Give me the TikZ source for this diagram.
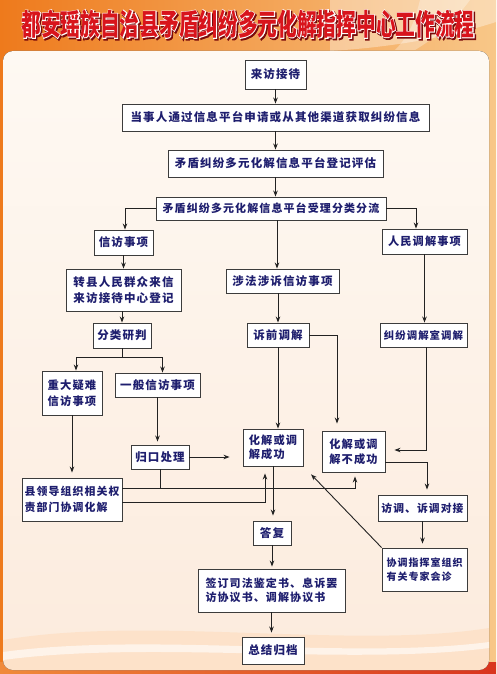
\documentclass[tikz,border=0pt]{standalone}
\usepackage{fontspec}
\usetikzlibrary{arrows.meta,calc}
\newfontfamily\cjk[LetterSpace=10]{Noto Sans CJK SC}
\newfontfamily\cjktitle{Noto Sans CJK SC}
\newfontfamily\cjktitleW{Noto Sans CJK SC}[BoldFeatures={FakeBold=5}]
\newfontfamily\cjktitleS{Noto Sans CJK SC}[BoldFeatures={FakeBold=7}]
\definecolor{txt}{HTML}{1E1E6E}
\definecolor{boxc}{HTML}{3C3C3C}
\definecolor{linec}{HTML}{222222}
\definecolor{orL}{HTML}{EE7A1C}
\definecolor{orR}{HTML}{F8C788}
\definecolor{panelT}{HTML}{FEF9F3}
\definecolor{panelB}{HTML}{FCEBDD}
\definecolor{titlered}{HTML}{D8141C}
\definecolor{titleshadow}{HTML}{7A0A0A}
\definecolor{botL}{HTML}{F08A3A}
\definecolor{botR}{HTML}{D9341E}
\newcommand{\fsz}[2]{\cjk\bfseries\fontsize{#1}{#2}\selectfont}
\newcommand{\titletext}{都安瑶族自治县矛盾纠纷多元化解指挥中心工作流程}
\begin{document}
\begin{tikzpicture}[x=1pt,y=-1pt,
  box/.style={draw=boxc, line width=0.9pt, fill=white, text=txt, inner sep=0pt, align=center, font=\fsz{11.5}{15.5}},
  arr/.style={draw=linec, line width=0.9pt, -{Stealth[length=6pt,width=4.5pt]}},
  ln/.style={draw=linec, line width=0.9pt},
  titlestyle/.style={inner sep=0pt}]
\useasboundingbox (0,0) rectangle (496,674);
% background
\fill[left color=orL, right color=orR] (0,0) rectangle (496,674);
\fill[white, opacity=0.35] (330,0) -- (496,0) -- (496,22) .. controls (440,40) and (380,48) .. (330,51) -- cycle;
\fill[white, opacity=0.3] (420,0) -- (470,0) .. controls (455,20) and (440,35) .. (415,50) -- (395,50) .. controls (410,35) and (415,20) .. cycle;
\fill[left color=botL, right color=botR] (0,662) rectangle (496,674);
\fill[top color=panelT, bottom color=panelB, rounded corners=10pt] (3,51) rectangle (489,670);
\begin{scope}
\clip[rounded corners=10pt] (3,51) rectangle (489,670);
\fill[orange!35, opacity=0.35] (3,640) .. controls (150,615) and (350,650) .. (489,628) -- (489,670) -- (3,670) -- cycle;
\fill[white, opacity=0.6] (3,652) .. controls (150,632) and (350,660) .. (489,642) -- (489,648) .. controls (350,666) and (150,640) .. (3,660) -- cycle;
\end{scope}
% title: shadow, white outline, red fill
\node[titlestyle, text=titleshadow, font=\cjktitleS\bfseries\fontsize{19.7}{20}\selectfont] (titsh) at (249.3,25.5) {\scalebox{1}[1.5]{\titletext}};
\node[titlestyle, text=white, font=\cjktitleW\bfseries\fontsize{19.7}{20}\selectfont] (titw) at (248,24) {\scalebox{1}[1.5]{\titletext}};
\node[titlestyle, text=titlered, font=\cjktitle\bfseries\fontsize{19.7}{20}\selectfont] (title) at (248,24) {\scalebox{1}[1.5]{\titletext}};
% boxes
\node[box, minimum width=61, minimum height=29] (n1) at (275.5,74.5) {来访接待};
\node[box, minimum width=307, minimum height=27] (n2) at (275.5,117.5) {当事人通过信息平台申请或从其他渠道获取纠纷信息};
\node[box, minimum width=215, minimum height=27] (n3) at (275.5,163.5) {矛盾纠纷多元化解信息平台登记评估};
\node[box, minimum width=230, minimum height=23, font=\fsz{11}{15}] (n4) at (271,208.5) {矛盾纠纷多元化解信息平台受理分类分流};
\node[box, minimum width=59, minimum height=25] (xf) at (123.5,242.5) {信访事项};
\node[box, minimum width=115, minimum height=42] (zx) at (123.5,290) {转县人民群众来信\\来访接待中心登记};
\node[box, minimum width=58, minimum height=25] (fl) at (122,335.5) {分类研判};
\node[box, minimum width=60, minimum height=44, font=\fsz{11.3}{15.5}] (zd) at (72,393) {重大疑难\\信访事项};
\node[box, minimum width=85, minimum height=24] (yb) at (157.5,385) {一般信访事项};
\node[box, minimum width=113, minimum height=24] (sf) at (282.5,281) {涉法涉诉信访事项};
\node[box, minimum width=62, minimum height=24] (sq) at (278,335) {诉前调解};
\node[box, minimum width=85, minimum height=25, font=\fsz{11.2}{15}] (rm) at (424.5,241.5) {人民调解事项};
\node[box, minimum width=87, minimum height=24, font=\fsz{10.4}{15}] (jf) at (423.5,335) {纠纷调解室调解};
\node[box, minimum width=58, minimum height=24] (gk) at (160,457) {归口处理};
\node[box, minimum width=60, minimum height=37, align=left, font=\fsz{11.2}{13.5}] (cg) at (273,447.5) {化解或调\\解成功};
\node[box, minimum width=63, minimum height=41, align=left, font=\fsz{11.2}{15}] (bcg) at (353.5,451.5) {化解或调\\解不成功};
\node[box, minimum width=100, minimum height=43, align=left, font=\fsz{10.9}{15.5}] (xl) at (72,499.5) {县领导组织相关权\\责部门协调化解};
\node[box, minimum width=89, minimum height=26, font=\fsz{10.8}{15}] (fd) at (422.5,508) {访调、诉调对接};
\node[box, minimum width=85, minimum height=43, align=left, font=\fsz{10}{13.5}] (xt) at (424.5,569.5) {协调指挥室组织\\有关专家会诊};
\node[box, minimum width=38, minimum height=24] (df) at (272,533) {答复};
\node[box, minimum width=147, minimum height=43, align=left, font=\fsz{11}{14.5}] (qd) at (271.5,590.5) {签订司法鉴定书、息诉罢\\访协议书、调解协议书};
\node[box, minimum width=62, minimum height=27] (zj) at (273,650.5) {总结归档};
% connectors
\draw[arr] (n1) -- (n2);
\draw[arr] (n2) -- (n3);
\draw[arr] (n3.south) -- (n3.south |- n4.north);
\draw[arr] (n4.west) -| ([xshift=1.5]xf.north);
\draw[arr] (n4.east) -| ([xshift=-8.5]rm.north);
\draw[arr] ([xshift=6]n4.south) -- ([xshift=6]n4.south |- sf.north);
\draw[arr] (xf) -- (zx);
\draw[arr] (zx.south -| fl.north) -- (fl.north);
\draw[ln] (fl.south) -- ++(0,9) coordinate (fk);
\draw[arr] (fk) -| ([xshift=4]zd.north);
\draw[arr] (fk) -| ([xshift=5]yb.north);
\draw[arr] (sf.south -| sq.north) -- (sq.north);
\draw[arr] (sq.south) -- (sq.south |- cg.north);
\draw[arr, shorten >=7pt] (sq.east) -| ([xshift=-16.5]bcg.north);
\draw[arr] (rm.south) -- (rm.south |- jf.north);
\draw[arr, shorten >=9pt] ([xshift=2.5]jf.south) |- ($(bcg.east)+(0,-1.5)$);
\draw[arr, shorten >=5pt] ($(bcg.south east)+(0,-10)$) -| ([xshift=4.5]fd.north);
\draw[arr, shorten >=4pt] (fd.south) -- (fd.south |- xt.north);
\draw[arr, shorten >=11pt] (xt.north west) -- (cg.south east);
\draw[arr, shorten >=3pt] (yb.south) -- (yb.south |- gk.north);
\draw[arr, shorten >=13pt] (gk.east) -- (gk.east -| cg.west);
\draw[arr, shorten >=5pt] (zd.south) -- (zd.south |- xl.north);
\draw[arr, shorten >=4pt] ($(xl.east)+(0,-11.5)$) -| ([xshift=1.5]bcg.south);
\draw[ln] (gk.south) -- ++(0,19);
\draw[arr, shorten >=7pt] ($(xl.east)+(0,2.5)$) -| ([xshift=-8]cg.south);
\draw[arr, shorten >=5pt] (cg.south) -- (cg.south |- df.north);
\draw[arr, shorten >=2pt] (df.south) -- (df.south |- qd.north);
\draw[arr, shorten >=4pt] (qd.south) -- (qd.south |- zj.north);
\end{tikzpicture}
\end{document}
